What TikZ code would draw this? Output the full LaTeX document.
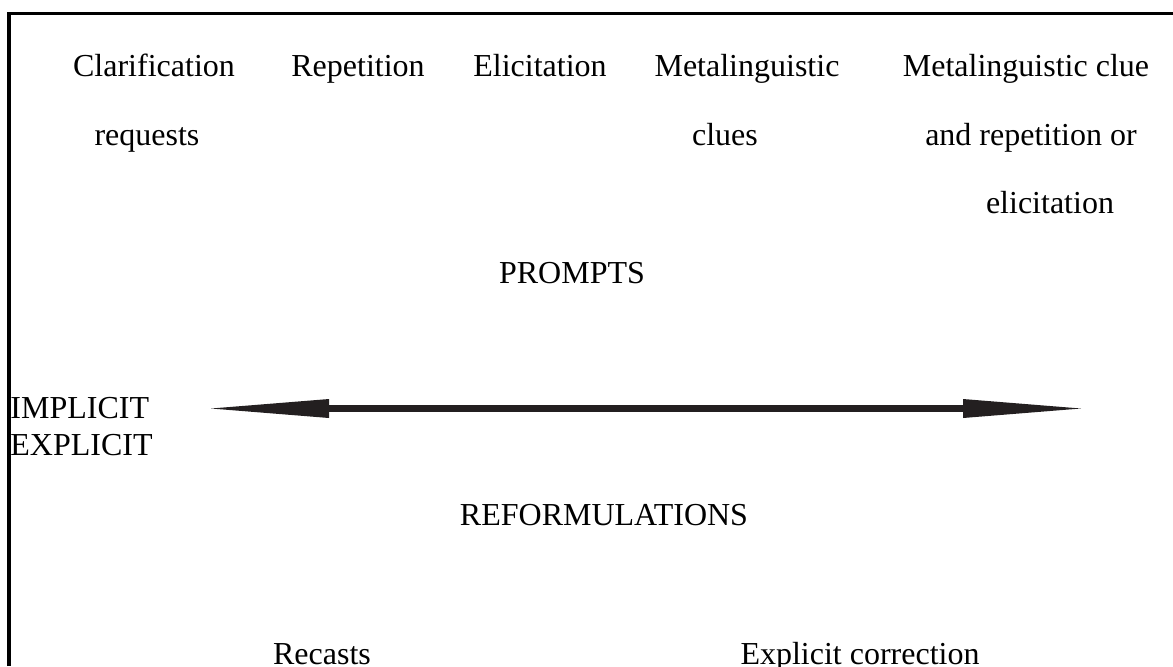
\documentclass[tikz,border=0pt]{standalone}
\usepackage{fontspec}
\setmainfont{Liberation Serif}
\usepackage{tikz}
\usetikzlibrary{positioning, arrows.meta}
\definecolor{axisgray}{RGB}{35, 31, 32}
\tikzset{
  lbl/.style={anchor=base, inner sep=0pt, font=\fontsize{16}{19}\selectfont},
  lblL/.style={anchor=base west, inner sep=0pt, font=\fontsize{16}{19}\selectfont},
  frame/.style={draw=black, line width=1.6pt},
  axis/.style={draw=axisgray, line width=3.5pt,
    {Triangle[length=59pt, width=9.5pt, line width=0pt, fill=axisgray]}-{Triangle[length=59pt, width=9.5pt, line width=0pt, fill=axisgray]}},
}

\begin{document}
\begin{tikzpicture}[x=0.5pt, y=-0.5pt]
\useasboundingbox (0,0) rectangle (1173,666);

% cadre (haut et gauche seulement)
\draw[frame] (9,666) -- (9,13.5) -- (1173,13.5);

% types de relances
\node[lbl] (clar) at (154,76) {Clarification};
\node[lbl] (clar2) at (147,145) {requests};
\node[lbl] (rep) at (358,76) {Repetition};
\node[lbl] (elic) at (540,76) {Elicitation};
\node[lbl] (meta) at (747,76) {Metalinguistic};
\node[lbl] (meta2) at (725,145) {clues};
\node[lbl] (metarep) at (1026,76) {Metalinguistic clue};
\node[lbl] (metarep2) at (1031,145) {and repetition or};
\node[lbl] (metarep3) at (1050,213) {elicitation};

\node[lbl] (prompts) at (572,283) {PROMPTS};

% axe implicite / explicite
\node[lblL] (impl) at (10,418) {IMPLICIT};
\node[lblL] (expl) at (10,455) {EXPLICIT};
\coordinate (axL) at (211,408.5);
\coordinate (axR) at (1081,408.5);
\draw[axis] (axL) -- (axR);

\node[lbl] (reform) at (604,525) {REFORMULATIONS};

\node[lbl] (recasts) at (322,664) {Recasts};
\node[lbl] (explcorr) at (860,664) {Explicit correction};

\end{tikzpicture}
\end{document}
